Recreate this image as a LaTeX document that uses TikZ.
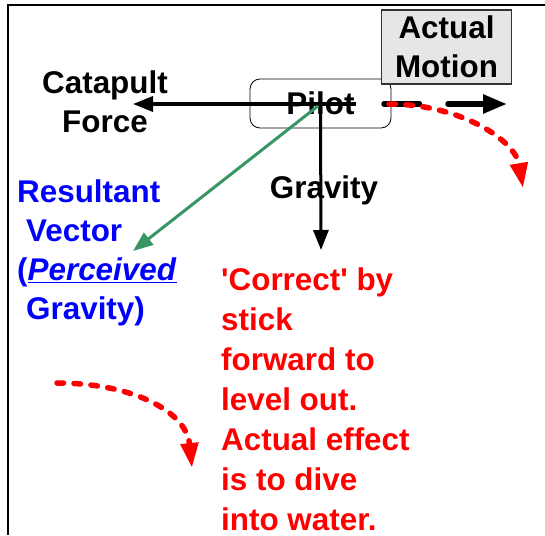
\documentclass[tikz,border=0pt]{standalone}
\usepackage{fontspec}
\setmainfont{Liberation Sans}
\usetikzlibrary{arrows.meta}
\definecolor{vecgreen}{RGB}{56,150,100}
\definecolor{boxgray}{RGB}{230,230,230}

\begin{document}
\begin{tikzpicture}[
    x=1pt, y=-1pt,
    every node/.style={font=\bfseries\fontsize{31.4}{39.3}\selectfont, inner sep=0pt},
    force/.style={-{Triangle[length=20pt,width=15pt]}, line width=3.5pt},
    motionarrow/.style={-{Triangle[length=24pt,width=18pt]}, line width=5.5pt, line cap=round, dash pattern=on 35.5pt off 28.5pt},
    divepath/.style={red, -{Triangle[length=25pt,width=17pt]}, line width=5.5pt, line cap=round, dash pattern=on 6.5pt off 10.5pt},
    textblock/.style={align=left, anchor=north west}
]
\useasboundingbox (0,0) rectangle (545,535);

% frame
\draw[line width=2pt] (8,535) -- (8,5) -- (545,5);

% pilot and motion boxes
\node[draw, rounded corners=10pt, line width=0.8pt, minimum width=141pt, minimum height=49pt] (pilot) at (320.5,103.5) {Pilot};
\node[draw=black!80, fill=boxgray, line width=1.2pt, minimum width=130pt, minimum height=74pt, align=center] (motion) at (446.5,47) {Actual\\Motion};

% forces on the pilot
\coordinate (catstart) at (356,104);
\coordinate (catend) at (133,104);
\coordinate (gravend) at (321,250);
\coordinate (resstart) at (318,106);
\coordinate (resend) at (133,251);

\draw[force] (catstart) -- (catend);
\draw[force, line width=3pt] (pilot.center) -- (gravend);
\draw[force, vecgreen, line width=3pt] (resstart) -- (resend);

% actual motion
\coordinate (movestart) at (384,104);
\coordinate (moveend) at (507,104);
\draw[motionarrow] (movestart) -- (moveend);

% dive paths
\coordinate (dive1s) at (389,104);
\coordinate (dive1e) at (523,188);
\coordinate (dive2s) at (57,383);
\coordinate (dive2e) at (192,468);
\draw[divepath] (dive1s) .. controls (460,104) and (515,140) .. (dive1e);
\draw[divepath] (dive2s) .. controls (130,383) and (186,410) .. (dive2e);

% labels
\node[align=center] (catapult) at (105,102) {Catapult\\Force};
\node[anchor=base] (gravity) at (324,198) {Gravity};
\node[textblock, blue, font=\bfseries\fontsize{31.4}{39}\selectfont] (resultant) at (17,180) {Resultant\\\hspace*{9pt}Vector\\(\underline{\textit{Perceived}}\\\hspace*{9pt}Gravity)};
\node[textblock, red, font=\bfseries\fontsize{31.4}{40}\selectfont] (correct) at (221,267.5) {\textquotesingle Correct\textquotesingle{} by\\stick\\forward to\\level out.\\Actual effect\\is to dive\\into water.};

\end{tikzpicture}
\end{document}
